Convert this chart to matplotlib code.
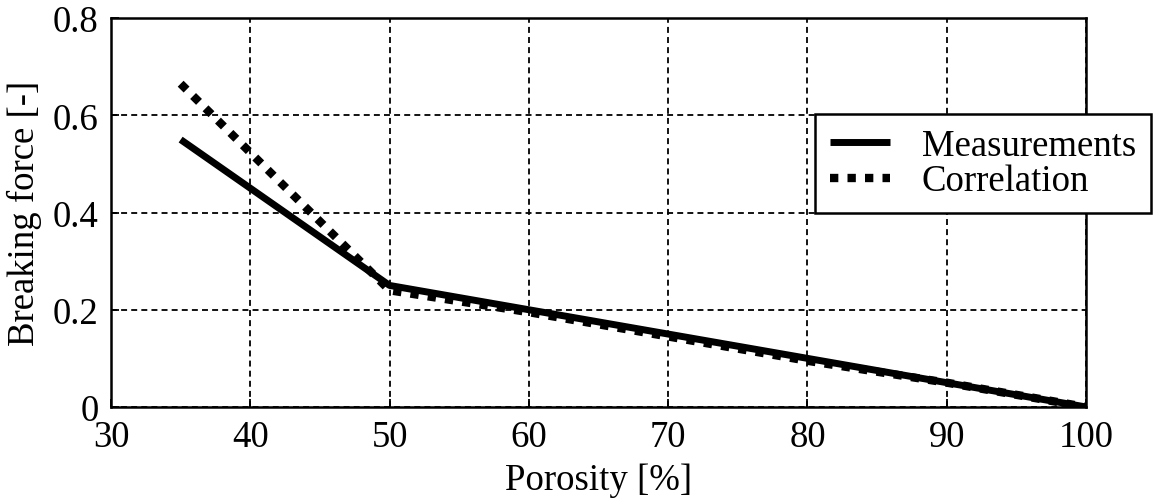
import matplotlib
matplotlib.use("Agg")
import matplotlib.pyplot as plt

porosity = [35, 50, 60, 70, 80, 90, 100]
measurements = [0.55, 0.25, 0.20, 0.15, 0.10, 0.05, 0.0]
correlation = [0.665, 0.24, 0.195, 0.145, 0.095, 0.05, 0.0]
xticks = [30, 40, 50, 60, 70, 80, 90, 100]
yticks = [0, 0.2, 0.4, 0.6, 0.8]
yticklabels = ["0", "0.2", "0.4", "0.6", "0.8"]

plt.rcParams['font.family'] = ['Liberation Serif', 'DejaVu Serif']
FS = 26.5
fig = plt.figure(figsize=(11.66, 5.02), dpi=100)
ax = fig.add_axes([0.0952, 0.1873, 0.8362, 0.7747])

ax.plot(porosity, measurements, color='black', lw=5, solid_capstyle='butt', label='Measurements', zorder=3)
ax.plot(porosity, correlation, color='black', lw=6, linestyle=(0, (1.0, 1.1)), label='Correlation', zorder=3)

ax.set_xlim(30, 100)
ax.set_ylim(0, 0.8)
ax.set_xticks(xticks)
ax.set_yticks(yticks)
ax.set_yticklabels(yticklabels)
ax.tick_params(direction='in', length=6, width=1.3, labelsize=FS)
ax.tick_params(axis='x', pad=9)
ax.tick_params(axis='y', pad=9)
ax.grid(True, color='black', linestyle=(0, (3.3, 2.3)), lw=1.3)
for s in ax.spines.values():
    s.set_linewidth(1.8)

ax.set_xlabel('Porosity [%]', fontsize=FS, labelpad=6)
ax.set_ylabel('Breaking force [-]', fontsize=FS, labelpad=8)

leg = ax.legend(loc='upper left', bbox_to_anchor=(815/1166, 1-115/502), bbox_transform=fig.transFigure,
                fontsize=FS, frameon=True, fancybox=False, edgecolor='black', framealpha=1,
                handlelength=1.65, borderpad=0.4, labelspacing=0.02, handletextpad=0.85, borderaxespad=0)
leg.get_frame().set_linewidth(1.8)

fig.savefig('out.png', dpi=100)
